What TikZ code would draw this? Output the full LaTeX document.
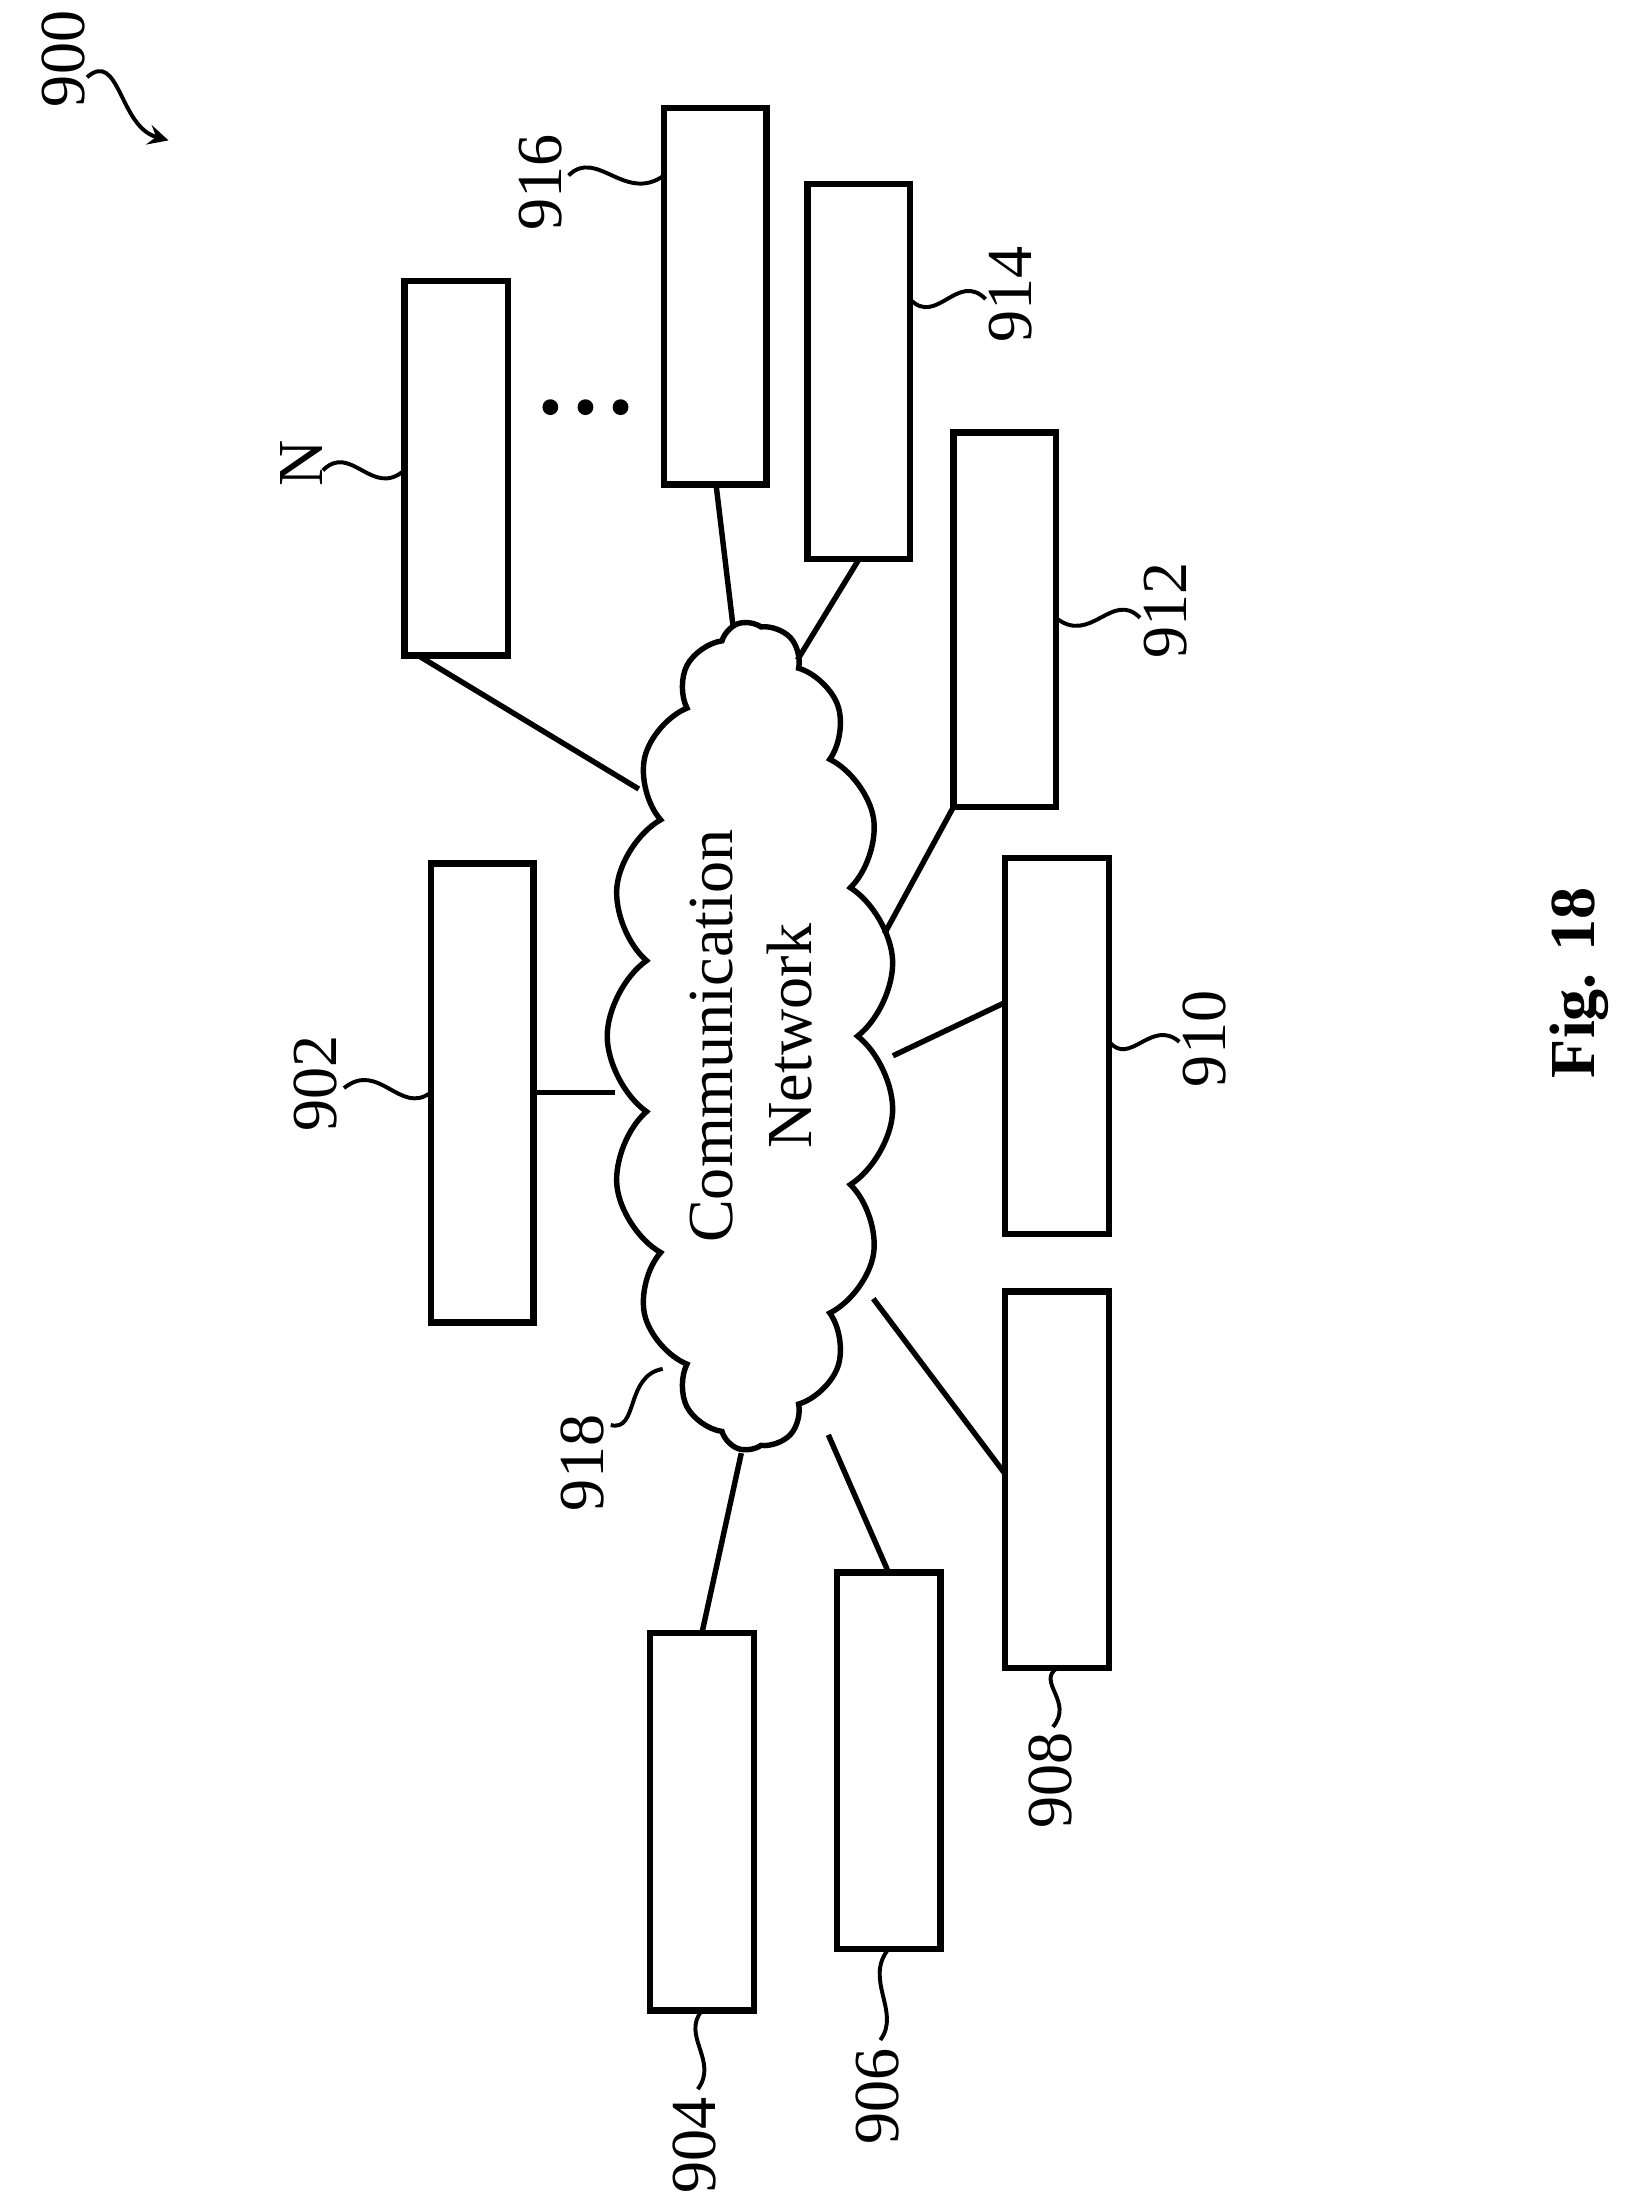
\documentclass[tikz,border=0pt]{standalone}
\usepackage{fontspec}
\setmainfont{Liberation Serif}
\usetikzlibrary{shapes.symbols}
\begin{document}
\begin{tikzpicture}[x=1cm,y=-1cm,
    box/.style={draw, line width=1.3pt},
    link/.style={line width=1.1pt},
    lead/.style={line width=0.8pt},
    lbl/.style={rotate=90, font=\fontsize{13}{15}\selectfont}]
    \useasboundingbox (0,0) rectangle (11.6,15.62);

    % Boxes
    \draw[box] (3.07,6.15) rectangle (3.80,9.42);
    \draw[box] (4.63,11.63) rectangle (5.37,14.32);
    \draw[box] (5.96,11.20) rectangle (6.70,13.88);
    \draw[box] (7.16,9.20) rectangle (7.90,11.88);
    \draw[box] (7.16,6.11) rectangle (7.90,8.79);
    \draw[box] (6.79,3.08) rectangle (7.52,5.75);
    \draw[box] (5.75,1.31) rectangle (6.48,3.98);
    \draw[box] (4.73,0.77) rectangle (5.46,3.45);
    \draw[box] (2.88,2.00) rectangle (3.62,4.67);

    % Cloud
    \node[draw, cloud, cloud puffs=17, cloud puff arc=110, aspect=2.9, line width=1.1pt,
          minimum width=5.9cm, minimum height=2.05cm, rotate=90, align=center,
          font=\fontsize{13}{16}\selectfont] (net) at (5.35,7.38) {Communication\\Network};

    % Connectors
    \draw[link] (3.80,7.78) -- (4.38,7.78);
    \draw[link] (5.00,11.63) -- (5.28,10.35);
    \draw[link] (6.32,11.18) -- (5.90,10.22);
    \draw[link] (7.16,10.50) -- (6.22,9.25);
    \draw[link] (7.16,7.14) -- (6.36,7.52);
    \draw[link] (6.79,5.75) -- (6.30,6.65);
    \draw[link] (6.12,3.98) -- (5.68,4.70);
    \draw[link] (5.10,3.45) -- (5.22,4.45);
    \draw[link] (2.98,4.67) -- (4.55,5.62);

    % Dots
    \foreach \x in {3.92,4.17,4.42}
        \fill (\x,2.90) circle (1.6pt);

    % Labels
    \node[lbl] (l900) at (0.45,0.42) {900};
    \draw[lead, ->, >=stealth] (0.62,0.55) .. controls (0.85,0.35) and (0.85,0.90) .. (1.20,1.00);
    \node[lbl] (l902) at (2.25,7.72) {902};
    \draw[lead] (2.45,7.75) .. controls (2.70,7.55) and (2.85,7.95) .. (3.07,7.78);
    \node[lbl] (l904) at (4.95,15.28) {904};
    \draw[lead] (4.97,14.88) .. controls (5.12,14.68) and (4.85,14.50) .. (5.00,14.32);
    \node[lbl] (l906) at (6.25,14.93) {906};
    \draw[lead] (6.27,14.53) .. controls (6.42,14.33) and (6.15,14.10) .. (6.33,13.88);
    \node[lbl] (l908) at (7.48,12.68) {908};
    \draw[lead] (7.50,12.30) .. controls (7.65,12.12) and (7.38,11.98) .. (7.53,11.88);
    \node[lbl] (l910) at (8.58,7.40) {910};
    \draw[lead] (8.40,7.42) .. controls (8.20,7.25) and (8.05,7.60) .. (7.90,7.42);
    \node[lbl] (l912) at (8.30,4.35) {912};
    \draw[lead] (8.12,4.40) .. controls (7.92,4.20) and (7.77,4.60) .. (7.52,4.40);
    \node[lbl] (l914) at (7.20,2.10) {914};
    \draw[lead] (7.02,2.13) .. controls (6.82,1.93) and (6.67,2.33) .. (6.48,2.13);
    \node[lbl] (l916) at (3.85,1.30) {916};
    \draw[lead] (4.05,1.25) .. controls (4.25,1.05) and (4.45,1.45) .. (4.73,1.25);
    \node[lbl] (lN) at (2.15,3.30) {N};
    \draw[lead] (2.30,3.35) .. controls (2.50,3.15) and (2.65,3.55) .. (2.88,3.35);
    \node[lbl] (l918) at (4.15,10.42) {918};
    \draw[lead] (4.35,10.15) .. controls (4.55,10.20) and (4.45,9.80) .. (4.72,9.75);

    \node[rotate=90, font=\fontsize{13}{15}\selectfont\bfseries] (fig) at (11.25,7.00) {Fig. 18};
\end{tikzpicture}
\end{document}
